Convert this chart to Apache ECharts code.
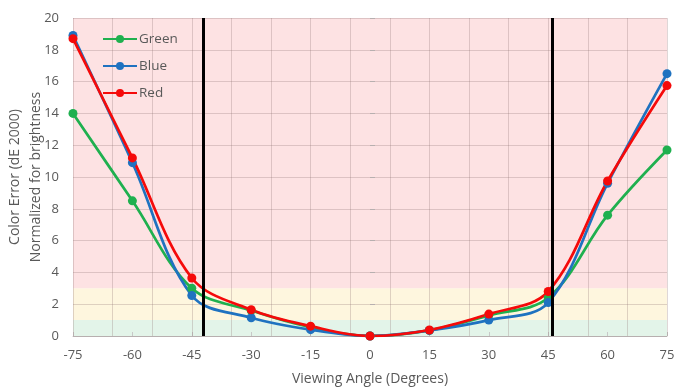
<!DOCTYPE html>
<html><head><meta charset="utf-8">
<script src="https://cdn.jsdelivr.net/npm/echarts@6/dist/echarts.min.js"></script>
<style>html,body{margin:0;padding:0;background:#fff}#c{width:693px;height:390px}</style>
</head><body><div id="c"></div>
<script>
const angles = [-75, -60, -45, -30, -15, 0, 15, 30, 45, 60, 75];
const green = [14.0, 8.5, 3.0, 1.6, 0.55, 0, 0.35, 1.3, 2.4, 7.6, 11.7];
const blue  = [18.9, 10.9, 2.55, 1.15, 0.4, 0, 0.35, 1.0, 2.1, 9.6, 16.5];
const red   = [18.7, 11.2, 3.65, 1.65, 0.62, 0, 0.38, 1.38, 2.8, 9.75, 15.75];
const limits = [-42, 46];
const bands = [[0, 1, '#e3f4e9'], [1, 3, '#fef6de'], [3, 20, '#fde2e3']];
const yTitle = ['Color Error (dE 2000)', 'Normalized for brightness'];

const font = 'Open Sans';
const txt = '#595959';
const gridCol = 'rgba(140,110,110,0.28)';
function pairs(v){ return angles.map((a,i)=>[a, v[i]]); }
function lineSeries(name, data, color){
  return {name, type:'line', data:pairs(data), smooth:0.35, symbol:'circle', symbolSize:9,
    itemStyle:{color}, lineStyle:{color, width:2.7}, z:3, xAxisIndex:0, yAxisIndex:0};
}
const chart = echarts.init(document.getElementById('c'));
chart.setOption({
  animation:false,
  grid:{left:73, right:26, top:18, bottom:54, containLabel:false, outerBoundsMode:'none'},
  legend:{left:97, top:27, orient:'vertical', itemGap:13, itemWidth:34, itemHeight:10,
    textStyle:{fontFamily:font, fontSize:13.5, color:txt, padding:[0,0,0,-3]},
    data:['Green','Blue','Red']},
  graphic:yTitle.map((t,i)=>({type:'text', x:15 + i*21, y:177, rotation:Math.PI/2,
    style:{text:t, fontFamily:font, fontSize:14, fill:txt, align:'center', verticalAlign:'middle'}})),
  xAxis:[
    {type:'value', min:-75, max:75, interval:15, position:'bottom',
     axisLine:{show:true, lineStyle:{color:'#c8c8c8'}}, axisTick:{show:false},
     splitLine:{show:false},
     axisLabel:{fontFamily:font, fontSize:13, color:txt, margin:13},
     name:'Viewing Angle (Degrees)', nameLocation:'middle', nameGap:36,
     nameTextStyle:{fontFamily:font, fontSize:14, color:txt}},
    {type:'value', min:-75, max:75, interval:15, position:'top',
     axisLine:{show:false}, axisTick:{show:true, inside:false, length:4, lineStyle:{color:'#c8c8c8'}},
     axisLabel:{show:false}, splitLine:{show:false}},
    {type:'value', min:-75, max:75, interval:10, position:'bottom', z:1,
     axisLine:{show:false}, axisTick:{show:false}, axisLabel:{show:false},
     splitLine:{show:true, lineStyle:{color:gridCol, width:1}}}
  ],
  yAxis:[
    {type:'value', min:0, max:20, interval:2, z:1,
     axisLine:{show:false}, axisTick:{show:false},
     splitLine:{show:true, lineStyle:{color:gridCol, width:1}},
     axisLabel:{fontFamily:font, fontSize:13, color:txt, margin:14}},
    {type:'value', min:0, max:20, interval:2, position:'right',
     axisLine:{show:false}, axisTick:{show:true, length:5, lineStyle:{color:'#c8c8c8'}},
     axisLabel:{show:false}, splitLine:{show:false}}
  ],
  series:[
    {name:'bands', type:'line', data:[], z:0, xAxisIndex:0, yAxisIndex:0,
     markArea:{silent:true, z:0, data:bands.map(b=>[{yAxis:b[0], itemStyle:{color:b[2]}},{yAxis:b[1]}])}},
    lineSeries('Green', green, '#1fb04f'),
    lineSeries('Blue', blue, '#1f72c0'),
    Object.assign(lineSeries('Red', red, '#f50a0a'), {
      markLine:{silent:true, symbol:'none', label:{show:false}, z:4,
        lineStyle:{color:'#000', width:3, type:'solid'},
        data:limits.map(v=>({xAxis:v}))}})
  ]
});
</script></body></html>
